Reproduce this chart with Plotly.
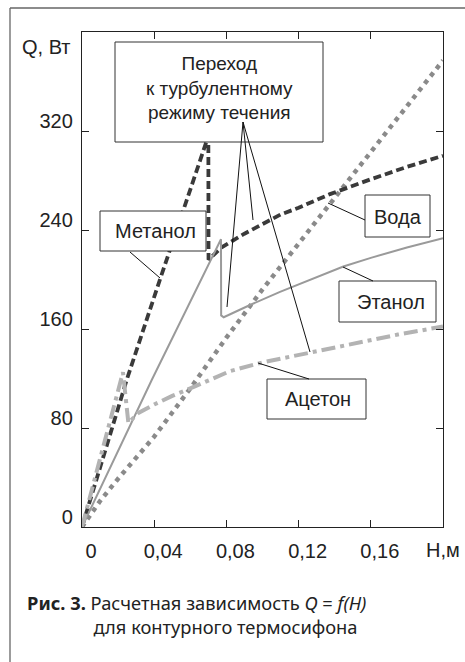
import plotly.graph_objects as go

# ---------------- data ----------------
H_methanol = [0, 0.0248, 0.0432, 0.0615, 0.0700, 0.0701, 0.0774, 0.090, 0.100, 0.110, 0.120, 0.1374, 0.160, 0.180, 0.200]
Q_methanol = [0, 119, 200, 280, 316, 216, 226, 237, 245, 252.5, 258, 269, 281, 291, 300]

H_water = [0, 0.01, 0.02, 0.04, 0.06, 0.08, 0.10, 0.12, 0.14, 0.16, 0.18, 0.20]
Q_water = [0, 21, 39, 73, 112, 153, 192, 229, 266, 303, 340, 377]

H_ethanol = [0, 0.0387, 0.0770, 0.0771, 0.0785, 0.0810, 0.0931, 0.1097, 0.120, 0.130, 0.1448, 0.160, 0.180, 0.200]
Q_ethanol = [0, 119, 232.5, 171, 169.5, 171.3, 179.4, 190, 196.2, 202.2, 210.5, 217.5, 225.8, 233.3]

H_acetone = [0, 0.0227, 0.0257, 0.031, 0.040, 0.050, 0.060, 0.070, 0.082, 0.100, 0.126, 0.150, 0.175, 0.200]
Q_acetone = [0, 125, 84, 92, 99, 106, 112, 118, 126, 133, 141, 148.5, 155.5, 162]

x_tickvals = [0, 0.04, 0.08, 0.12, 0.16]
x_ticktext = ["0", "0,04", "0,08", "0,12", "0,16"]
y_tickvals = [0, 80, 160, 240, 320]
y_ticktext = ["0", "80", "160", "240", "320"]

# ---------------- layout geometry ----------------
W, HT = 465, 662
L, R, T, B = 82, 22, 32, 135
X0, X1 = 0.0, 0.2
Y0, Y1 = 0.0, 400.0
PW = W - L - R
PH = HT - T - B


def dx(p):
    return X0 + (p - L) / PW * (X1 - X0)


def dy(p):
    return Y0 + (T + PH - p) / PH * (Y1 - Y0)


def pxp(p):
    return (p - L) / PW


def pyp(p):
    return (T + PH - p) / PH


FONT = "Liberation Sans, Arial, sans-serif"
TXT = "#222222"

fig = go.Figure()

fig.add_trace(go.Scatter(x=H_water, y=Q_water, mode="lines", name="Вода",
                         line=dict(color="#8a8a8a", width=4.5, dash="4.5px,5px")))
fig.add_trace(go.Scatter(x=H_methanol, y=Q_methanol, mode="lines", name="Метанол",
                         line=dict(color="#3a3a3a", width=3.8, dash="8px,4px")))
fig.add_trace(go.Scatter(x=H_ethanol, y=Q_ethanol, mode="lines", name="Этанол",
                         line=dict(color="#9a9a9a", width=2)))
fig.add_trace(go.Scatter(x=H_acetone, y=Q_acetone, mode="lines", name="Ацетон",
                         line=dict(color="#b3b3b3", width=4, dash="14px,5px,4px,5px")))

shapes = []
# outer frame (cropped at right and bottom)
shapes.append(dict(type="line", xref="paper", yref="paper",
                   x0=pxp(10), x1=pxp(10), y0=pyp(8), y1=pyp(HT + 10),
                   line=dict(color="#666666", width=1.3)))
shapes.append(dict(type="line", xref="paper", yref="paper",
                   x0=pxp(10), x1=pxp(W + 10), y0=pyp(8), y1=pyp(8),
                   line=dict(color="#666666", width=1.3)))

# label boxes (pixel rectangles)
boxes = [
    (115, 42, 323, 142),   # transition
    (100, 211, 206, 251),  # Метанол
    (365, 195, 430, 237),  # Вода
    (339, 281, 436, 322),  # Этанол
    (267, 379, 366, 419),  # Ацетон
]
for (a, b, c, d) in boxes:
    shapes.append(dict(type="rect", xref="x", yref="y", layer="above",
                       x0=dx(a), x1=dx(c), y0=dy(d), y1=dy(b),
                       fillcolor="white", line=dict(color="#333333", width=1)))

# leader lines
leaders = [
    ((130, 252), (160, 278)),
    ((365, 220), (328, 203)),
    ((373, 281), (343, 267)),
    ((309, 379), (258, 363)),
    ((243, 122), (227, 307)),
    ((243, 122), (253, 220)),
    ((243, 122), (310, 352)),
]
for (p0, p1) in leaders:
    shapes.append(dict(type="line", xref="x", yref="y", layer="above",
                       x0=dx(p0[0]), y0=dy(p0[1]), x1=dx(p1[0]), y1=dy(p1[1]),
                       line=dict(color="#111111", width=1)))

annotations = []
box_texts = [
    ("Переход<br>к турбулентному<br>режиму течения", 219, 88, 19),
    ("Метанол", 155, 231, 20),
    ("Вода", 397.5, 216.5, 20),
    ("Этанол", 391, 301.5, 20),
    ("Ацетон", 318, 399, 20),
]
for (t, cx, cy, fs) in box_texts:
    annotations.append(dict(text=t, x=dx(cx), y=dy(cy), xref="x", yref="y",
                            showarrow=False, xanchor="center", yanchor="middle",
                            align="center", font=dict(family=FONT, size=fs, color=TXT)))

# axis titles
annotations.append(dict(text="Q, Вт", x=pxp(73), y=pyp(47), xref="paper", yref="paper",
                        showarrow=False, xanchor="right", yanchor="middle",
                        font=dict(family=FONT, size=20, color=TXT)))
annotations.append(dict(text="H,м", x=pxp(442.5), y=pyp(550), xref="paper", yref="paper",
                        showarrow=False, xanchor="center", yanchor="middle",
                        font=dict(family=FONT, size=20, color=TXT)))

# caption (one text block, second line indented)
CAP = "Noto Sans, sans-serif"
indent = "&nbsp;" * 14
annotations.append(dict(text="<b>Рис. 3.</b> Расчетная зависимость <i>Q</i> = <i>f(H)</i><br>"
                             + indent + "для контурного термосифона",
                        x=pxp(25), y=pyp(614.5), xref="paper", yref="paper",
                        showarrow=False, xanchor="left", yanchor="middle", align="left",
                        font=dict(family=CAP, size=18.3, color=TXT)))

axis_common = dict(showgrid=False, zeroline=False, showline=True, mirror="ticks",
                   linecolor="#222222", linewidth=1.3, ticks="inside", ticklen=7,
                   tickwidth=1.2, tickcolor="#222222",
                   tickfont=dict(family=FONT, size=20, color=TXT))

fig.update_layout(
    width=W, height=HT,
    margin=dict(l=L, r=R, t=T, b=B),
    paper_bgcolor="white", plot_bgcolor="white",
    showlegend=False,
    xaxis=dict(range=[X0, X1], tickmode="array", tickvals=x_tickvals, ticktext=x_ticktext,
               ticklabelstandoff=6, ticklabelshift=9, **axis_common),
    yaxis=dict(range=[Y0, Y1], tickmode="array", tickvals=y_tickvals, ticktext=y_ticktext,
               ticklabelstandoff=4, ticklabelshift=-10, **axis_common),
    shapes=shapes,
    annotations=annotations,
)

fig.write_html("out.html")
